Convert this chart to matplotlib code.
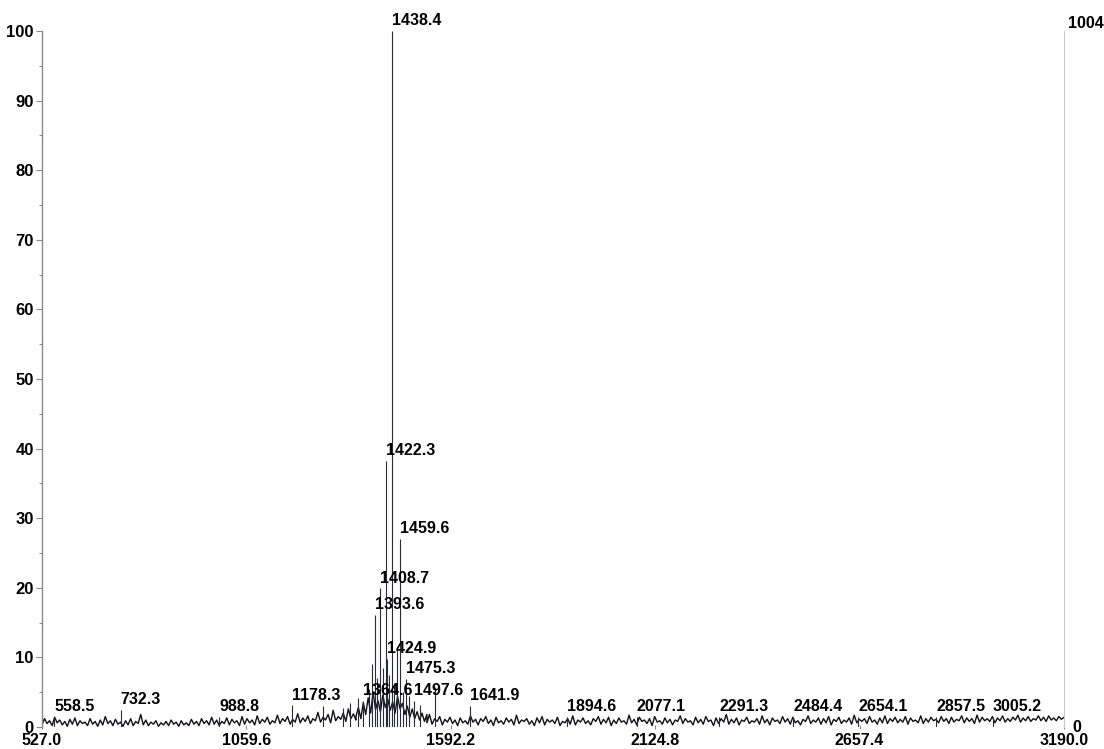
import numpy as np
import matplotlib
matplotlib.use("Agg")
import matplotlib.pyplot as plt
from matplotlib.ticker import MultipleLocator, FixedLocator

# ---- data -------------------------------------------------------------
mz_min, mz_max = 527.0, 3190.0
max_counts = 1004
x_tick_values = [527.0, 1059.6, 1592.2, 2124.8, 2657.4, 3190.0]

# labelled peaks: m/z and relative intensity (%)
peak_mz = [558.5, 732.3, 988.8, 1178.3, 1364.6, 1393.6, 1408.7, 1422.3,
           1424.9, 1438.4, 1459.6, 1475.3, 1497.6, 1641.9, 1894.6, 2077.1,
           2291.3, 2484.4, 2654.1, 2857.5, 3005.2]
peak_int = [1.5, 2.5, 1.4, 3.1, 3.7, 16.1, 19.9, 38.2,
            9.8, 100.0, 27.0, 6.9, 3.7, 3.0, 1.4, 1.4,
            1.4, 1.4, 1.4, 1.4, 1.4]

# unlabelled peaks in the isotope/adduct cluster
minor_mz = [1260.0, 1312.0, 1330.0, 1350.0, 1378.0, 1386.0, 1400.0, 1415.0,
            1430.0, 1445.0, 1451.0, 1467.0, 1483.0, 1512.0, 1551.0]
minor_int = [3.0, 2.8, 3.4, 4.2, 5.5, 9.0, 7.0, 8.5,
             7.5, 6.0, 11.5, 5.0, 4.5, 3.2, 5.8]

# baseline trace (tenths of a percent), low-mass region 527-1345
noise_low = [3, 12, 5, 9, 2, 14, 6, 10, 3, 8, 1, 11, 4, 13, 2, 9, 5, 7, 2, 12,
             4, 8, 1, 10, 3, 15, 5, 9, 2, 11, 4, 7, 1, 9, 3, 12, 2, 8, 5, 18,
             3, 10, 2, 7, 4, 9, 1, 6, 3, 8, 2, 10, 4, 7, 1, 9, 3, 6, 2, 11,
             4, 8, 2, 12, 5, 9, 3, 14, 4, 10, 2, 8, 5, 13, 3, 11, 6, 9, 2, 15,
             4, 12, 6, 10, 3, 16, 5, 11, 7, 14, 4, 9, 6, 17, 5, 12, 8, 15, 4, 11,
             7, 19, 6, 13, 8, 16, 5, 12, 9, 21, 7, 14, 10, 18, 6, 24, 9, 15, 11, 20,
             8, 26, 12, 19, 10]
# cluster region 1345-1530
noise_mid = [15, 28, 12, 35, 18, 42, 20, 50, 25, 38, 22, 46, 28, 40, 24,
             36, 20, 44, 26, 34, 18, 30, 14, 26, 12, 22, 10, 20, 8, 18]
# high-mass region 1530-3190
noise_high = [6, 18, 4, 12, 8, 15, 3, 11, 7, 14, 5, 10, 2, 13, 6, 9, 4, 16, 7, 11,
              3, 12, 8, 15, 5, 10, 2, 14, 6, 9, 4, 13, 7, 11, 3, 17, 5, 10, 8, 12,
              4, 9, 2, 13, 6, 15, 3, 11, 7, 10, 5, 14, 2, 8, 6, 12, 4, 16, 3, 10,
              7, 13, 5, 9, 3, 12, 8, 15, 4, 11, 6, 14, 2, 10, 5, 13, 7, 9, 4, 17,
              6, 11, 3, 14, 8, 10, 5, 12, 2, 15, 7, 9, 4, 13, 6, 11, 3, 10, 8, 16,
              5, 12, 7, 9, 3, 14, 6, 11, 4, 15, 8, 10, 2, 13, 5, 12, 7, 18, 4, 11,
              6, 13, 3, 10, 8, 14, 5, 9, 7, 12, 4, 16, 6, 11, 3, 13, 8, 10, 5, 15,
              7, 12, 4, 14, 6, 9, 3, 11, 8, 16, 5, 10, 7, 13, 4, 12, 6, 15, 3, 11,
              8, 14, 5, 10, 7, 13, 4, 17, 6, 11, 8, 12, 5, 15, 7, 10, 4, 13, 6, 16,
              5, 12, 8, 14, 6, 11, 7, 15, 4, 13, 8, 10, 6, 16, 5, 12, 7, 14, 9, 11,
              6, 15, 8, 12, 5, 14, 7, 11, 9, 16, 6, 13, 8, 12, 5, 17, 7, 14, 9, 12,
              8, 15, 6, 13, 9, 16, 7, 12, 8, 14, 10, 17, 7, 13, 9, 15, 8, 12, 10, 16,
              9, 14, 8, 16, 10, 13, 9, 15, 11, 14]

# ---- figure -----------------------------------------------------------
W, H, DPI = 1104, 749, 100
fig = plt.figure(figsize=(W / DPI, H / DPI), dpi=DPI)
ax = fig.add_axes([42 / W, (H - 727) / H, (1064 - 42) / W, (727 - 31) / H])

FAMILY = "Liberation Sans"
peak_font = dict(family=FAMILY, weight="bold", size=11.5)

# baseline trace
mz_low = np.linspace(mz_min, 1345.0, len(noise_low))
mz_mid = np.linspace(1345.0, 1530.0, len(noise_mid))
mz_high = np.linspace(1530.0, mz_max, len(noise_high))
trace_mz = np.concatenate([mz_low, mz_mid, mz_high])
trace_int = np.concatenate([noise_low, noise_mid, noise_high]) / 10.0
ax.plot(trace_mz, trace_int, color="#101018", lw=1.0)

# peaks as sticks
ax.vlines(minor_mz, 0, minor_int, color="#2a2a3a", lw=0.8)
ax.vlines(peak_mz, 0, peak_int, color="#2a2a3a", lw=0.8)

# peak labels, left edge on the peak
for mz, h in zip(peak_mz, peak_int):
    ax.annotate(f"{mz:.1f}", (mz, h), xytext=(0, 2),
                textcoords="offset points", ha="left", va="bottom", **peak_font)

ax.set_xlim(mz_min, mz_max)
ax.set_ylim(0, 100)

# axes styling
for side in ("top", "bottom"):
    ax.spines[side].set_visible(False)
ax.spines["left"].set_color("#8a8a8a")
ax.spines["left"].set_linewidth(1.0)
ax.spines["right"].set_color("#c8c8c8")
ax.spines["right"].set_linewidth(0.8)

ax.yaxis.set_major_locator(MultipleLocator(10))
ax.yaxis.set_minor_locator(MultipleLocator(5))
ax.tick_params(axis="y", which="major", length=4, width=0.8, color="#8a8a8a",
               direction="out", pad=2)
ax.tick_params(axis="y", which="minor", length=2, width=0.8, color="#8a8a8a",
               direction="out")
ax.xaxis.set_major_locator(FixedLocator(x_tick_values))
ax.set_xticklabels([f"{v:.1f}" for v in x_tick_values])
ax.tick_params(axis="x", which="major", length=3, width=0.8, color="#8a8a8a",
               direction="inout", pad=3)
for lbl in ax.get_xticklabels():
    lbl.set_fontfamily(FAMILY)
    lbl.set_fontweight("bold")
    lbl.set_fontsize(11.5)
for lbl in ax.get_yticklabels():
    lbl.set_fontfamily(FAMILY)
    lbl.set_fontweight("bold")
    lbl.set_fontsize(12)

# right-hand absolute-intensity scale
ax.text(1.004, 1.0, str(max_counts), transform=ax.transAxes, ha="left",
        va="bottom", **peak_font)
ax.text(1.008, 0.0, "0", transform=ax.transAxes, ha="left", va="center",
        **peak_font)

fig.savefig("out.png", dpi=DPI, facecolor="white")
